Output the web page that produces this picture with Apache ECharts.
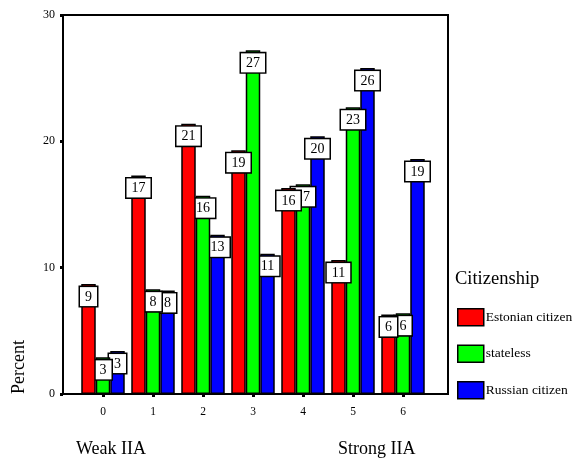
<!DOCTYPE html>
<html>
<head>
<meta charset="utf-8">
<script src="https://cdn.jsdelivr.net/npm/echarts@6/dist/echarts.min.js"></script>
<style>
  html, body { margin: 0; padding: 0; background: #fff; }
  #chart { width: 575px; height: 461px; }
</style>
</head>
<body>
<div id="chart"></div>
<script>
// Index categories (0 = weak, 6 = strong)
const categories = ['0', '1', '2', '3', '4', '5', '6'];

// Percent of each citizenship group per index value
const estonian = [8.7, 17.3, 21.4, 19.3, 16.3, 10.6, 6.3];
const stateless = [2.9, 8.3, 15.7, 27.2, 16.6, 22.7, 6.4];
const russian = [3.4, 8.2, 12.6, 11.1, 20.4, 25.8, 18.6];

const seriesNames = ['Estonian citizen', 'stateless', 'Russian citizen'];
const seriesColors = ['#ff0000', '#00ff00', '#0000ff'];

const yTicks = [0, 10, 20, 30];

const FONT = 'Liberation Serif';

const chart = echarts.init(document.getElementById('chart'), null, { renderer: 'canvas' });

function barSeries(name, data, color, z) {
  return {
    name: name,
    type: 'bar',
    xAxisIndex: 0,
    yAxisIndex: 0,
    data: data,
    barWidth: 14.5,
    barGap: '0%',
    z: z,
    itemStyle: { color: color, borderColor: '#000', borderWidth: 1.5 },
    label: {
      show: true,
      position: 'insideTop',
      distance: 3,
      formatter: p => String(Math.round(p.value)),
      fontFamily: FONT,
      fontSize: 14,
      color: '#000',
      backgroundColor: '#fff',
      borderColor: '#000',
      borderWidth: 1.5,
      padding: [3, 5, 2, 5]
    }
  };
}

const titleStyle = size => ({ fontFamily: FONT, fontSize: size, fontWeight: 'normal', color: '#000' });

const option = {
  animation: false,
  backgroundColor: '#fff',
  textStyle: { fontFamily: FONT },
  title: [
    { text: 'Citizenship', left: 455, top: 270, padding: 0, textStyle: titleStyle(18.5) },
    { text: 'Weak IIA', left: 76, top: 440, padding: 0, textStyle: titleStyle(18) },
    { text: 'Strong IIA', left: 338, top: 440, padding: 0, textStyle: titleStyle(18) }
  ],
  legend: {
    orient: 'vertical',
    left: 457,
    top: 308,
    padding: 0,
    itemWidth: 26,
    itemHeight: 17,
    itemGap: 18,
    icon: 'rect',
    selectedMode: false,
    data: seriesNames,
    itemStyle: { borderColor: '#000', borderWidth: 1.5 },
    textStyle: { fontFamily: FONT, fontSize: 13.5, color: '#000', padding: [0, 0, 0, -3] }
  },
  graphic: [
    { type: 'text', x: 19, y: 367, rotation: Math.PI / 2,
      style: { text: 'Percent', fontFamily: FONT, fontSize: 18, fill: '#000',
               textAlign: 'center', textVerticalAlign: 'middle' } }
  ],
  grid: [
    // bar area
    { left: 78, right: 147, top: 15, bottom: 67 },
    // surrounding frame
    { left: 63, right: 127, top: 15, bottom: 67, show: true,
      borderColor: '#000', borderWidth: 2, backgroundColor: 'transparent' }
  ],
  xAxis: [
    { type: 'category', gridIndex: 0, data: categories,
      axisLine: { show: false },
      axisTick: { show: true, alignWithLabel: true, length: 3, lineStyle: { color: '#000', width: 3 } },
      axisLabel: { fontFamily: FONT, fontSize: 11.5, color: '#000', margin: 12 } },
    { type: 'value', gridIndex: 1, show: false, min: 0, max: 1 }
  ],
  yAxis: [
    { type: 'value', gridIndex: 0, min: 0, max: 30, show: false },
    { type: 'value', gridIndex: 1, min: 0, max: 30, interval: 10,
      axisLine: { show: false },
      axisTick: { show: true, length: 3, lineStyle: { color: '#000', width: 3 } },
      splitLine: { show: false },
      axisLabel: { fontFamily: FONT, fontSize: 12, color: '#000', margin: 8,
                   padding: [0, 0, 2, 0],
                   formatter: v => yTicks.includes(v) ? String(v) : '' } }
  ],
  series: [
    barSeries(seriesNames[0], estonian, seriesColors[0], 5),
    barSeries(seriesNames[1], stateless, seriesColors[1], 4),
    barSeries(seriesNames[2], russian, seriesColors[2], 3)
  ]
};

chart.setOption(option);
</script>
</body>
</html>
